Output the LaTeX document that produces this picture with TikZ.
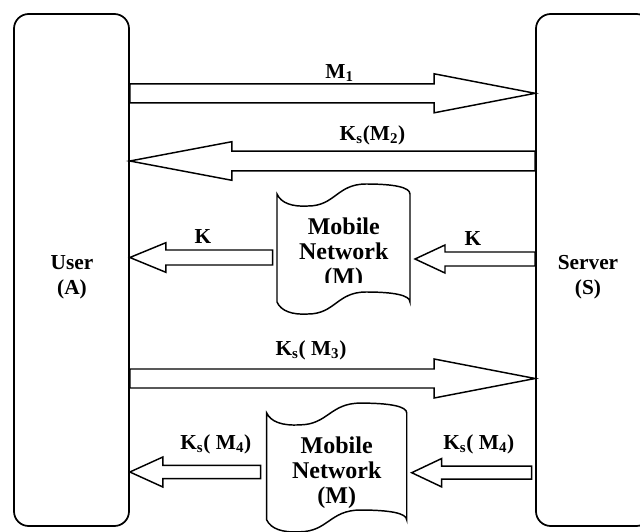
\documentclass[tikz,border=0pt]{standalone}
\usepackage{fontspec}
\setmainfont{Liberation Serif}
\usetikzlibrary{calc}
\newlength\px \setlength\px{0.75pt}
\tikzset{
  hostbox/.style={draw,line width=1.3pt,rounded corners=11pt,minimum width=115\px,minimum height=512\px,inner sep=0pt},
  fat/.style={draw,line width=1.1pt,fill=white,line join=miter},
  tape/.style={draw,line width=1.1pt,fill=white},
  lbl/.style={font=\bfseries\fontsize{16}{18.75}\selectfont,inner sep=0pt,align=center},
  netlbl/.style={lbl,font=\bfseries\fontsize{18}{18.75}\selectfont}
}
% block arrow: tail, tip, half shaft, half head, head length (signed, towards the tail)
\newcommand\fatarrow[5]{%
  \draw[fat] ($(#1)+(0,-#3)$) -- ($(#2)+(#5,-#3)$) -- ($(#2)+(#5,-#4)$) -- (#2)
    -- ($(#2)+(#5,#4)$) -- ($(#2)+(#5,#3)$) -- ($(#1)+(0,#3)$) -- cycle;}
% punched tape outline, top left corner at the origin
\newcommand\tapepath{(0,0) .. controls (4,9) and (15,13) .. (31,12)
  .. controls (58,12) and (60,-10) .. (89,-10) .. controls (116,-10) and (133,-7) .. (133,0)
  -- (133,108) .. controls (133,101) and (116,98) .. (89,98)
  .. controls (60,98) and (58,120) .. (31,120) .. controls (15,121) and (4,117) .. (0,108) -- cycle}

\begin{document}
\begin{tikzpicture}[x=0.75pt,y=-0.75pt]
\clip (0,0) rectangle (640,532);
% hosts
\node[hostbox] (user) at (71.5,270) {};
\node[hostbox] (server) at (593.5,270) {};
\node[lbl] (usertxt) at (72,276.8) {User\\(A)};
\node[lbl] (servertxt) at (588,276.8) {Server\\(S)};
% rows
\coordinate (row1) at (0,93.3);
\coordinate (row2) at (0,161);
\coordinate (row3) at (0,257.5);
\coordinate (row4) at (0,378.5);
\coordinate (row5) at (0,472);
% mobile networks
\begin{scope}[shift={(277,194)}]
  \draw[tape] \tapepath;
\end{scope}
\begin{scope}
  \clip (280,200) rectangle (408,282);
  \node[netlbl] (net1) at (343.8,253.5) {Mobile\\Network\\(M)};
\end{scope}
\begin{scope}[shift={(266.7,413)},xscale=1.053,yscale=0.99]
  \draw[tape] \tapepath;
\end{scope}
\node[netlbl] (net2) at (336.7,472.8) {Mobile\\Network\\(M)};
\coordinate (k1tail) at (272.7,257.5);
\coordinate (k2tip) at (415,259);
\coordinate (m4tail) at (260.7,472);
\coordinate (m4tip) at (411.7,472.7);
\coordinate (m4start) at (531.7,472.7);
% messages
\fatarrow{user.east |- row1}{server.west |- row1}{9.5}{19.5}{-101}
\fatarrow{server.west |- row2}{user.east |- row2}{9.8}{19.3}{102}
\fatarrow{k1tail}{user.east |- row3}{7.5}{14.8}{36}
\fatarrow{server.west |- k2tip}{k2tip}{7}{14}{30}
\fatarrow{user.east |- row4}{server.west |- row4}{9.5}{19.5}{-101}
\fatarrow{m4tail}{user.east |- row5}{6.7}{15}{33}
\fatarrow{m4start}{m4tip}{6.5}{14.2}{30}
\node[lbl,anchor=base] (m1) at (339.5,78.3) {M\textsubscript{1}};
\node[lbl,anchor=base] (m2) at (372.5,140) {K\textsubscript{s}(M\textsubscript{2})};
\node[lbl,anchor=base] (kleft) at (203,243) {K};
\node[lbl,anchor=base] (kright) at (473,245) {K};
\node[lbl,anchor=base] (m3) at (311,355) {K\textsubscript{s}( M\textsubscript{3})};
\node[lbl,anchor=base] (m4left) at (215.8,449) {K\textsubscript{s}( M\textsubscript{4})};
\node[lbl,anchor=base] (m4right) at (478.8,449) {K\textsubscript{s}( M\textsubscript{4})};
\end{tikzpicture}
\end{document}
